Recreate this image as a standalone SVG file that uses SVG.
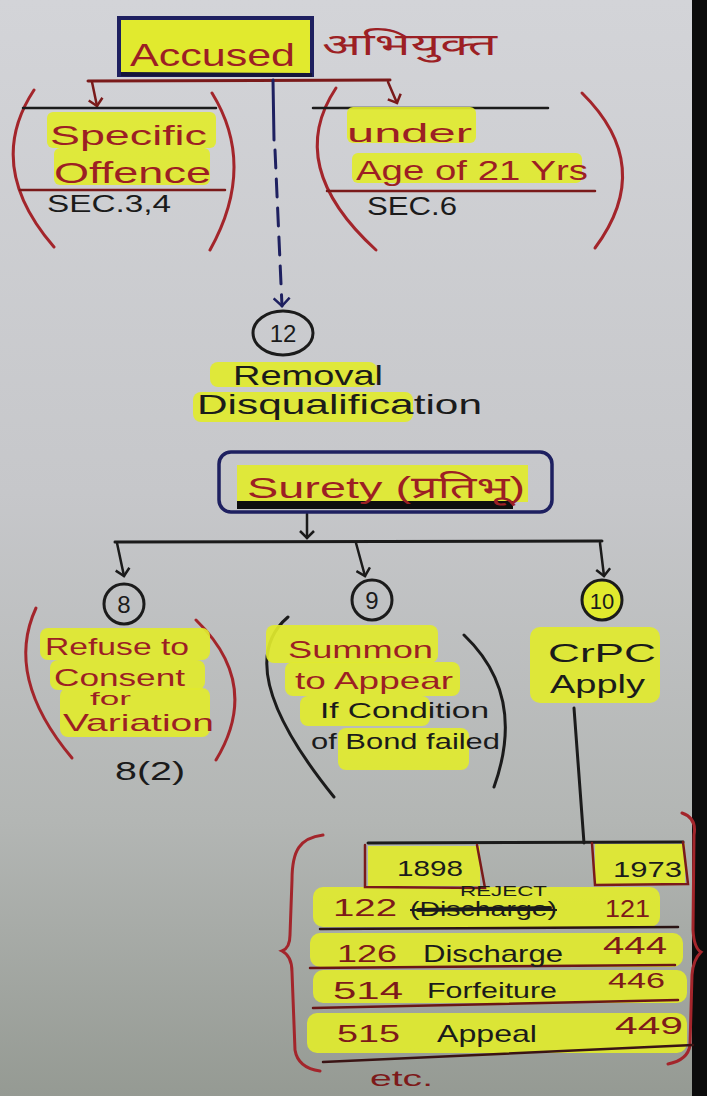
<svg xmlns="http://www.w3.org/2000/svg" width="707" height="1096" viewBox="0 0 707 1096">
<defs>
<linearGradient id="bg" x1="0" y1="0" x2="0" y2="1">
<stop offset="0" stop-color="#d3d4d8"/>
<stop offset="0.45" stop-color="#c6c7ca"/>
<stop offset="0.75" stop-color="#b3b6b4"/>
<stop offset="1" stop-color="#959a93"/>
</linearGradient>
<marker id="vk" markerWidth="16" markerHeight="16" refX="8" refY="8" orient="auto" markerUnits="userSpaceOnUse">
<path d="M1,1 L8,8 L1,15" fill="none" stroke="#1a1a1a" stroke-width="2.5"/>
</marker>
<marker id="vr" markerWidth="16" markerHeight="16" refX="8" refY="8" orient="auto" markerUnits="userSpaceOnUse">
<path d="M1,1 L8,8 L1,15" fill="none" stroke="#7a1a1a" stroke-width="2.5"/>
</marker>
<marker id="vb" markerWidth="18" markerHeight="18" refX="9" refY="9" orient="auto" markerUnits="userSpaceOnUse">
<path d="M1,1 L9,9 L1,17" fill="none" stroke="#1e2060" stroke-width="2.5"/>
</marker>
<style>
.t{font-family:"Liberation Sans","Noto Sans","Noto Sans Devanagari",sans-serif;}
.red{fill:#9c1f24;}
.dr{fill:#7d1a1a;}
.blk{fill:#1b1b1b;}
.hl{fill:#e1ea2e;opacity:0.92;}
.paren{fill:none;stroke-width:3;stroke-linecap:round;}
.pr{stroke:#a3252b;}
.pk{stroke:#1b1b1b;}
.ln{fill:none;stroke-linecap:round;}
.circ{fill:none;stroke:#1b1b1b;stroke-width:3;}
</style>
</defs>
<rect x="0" y="0" width="707" height="1096" fill="url(#bg)"/>
<rect x="692" y="0" width="15" height="1096" fill="#0c0c0c"/>

<g id="connectors">
<path class="ln" d="M88,81 L390,80" stroke="#7a1a1a" stroke-width="3"/>
<path class="ln" d="M92,82 L97,106" stroke="#7a1a1a" stroke-width="2.5" marker-end="url(#vr)"/>
<path class="ln" d="M388,82 L397,103" stroke="#7a1a1a" stroke-width="2.5" marker-end="url(#vr)"/>
<path class="ln" d="M273,80 L274,140" stroke="#1e2060" stroke-width="3"/>
<path class="ln" d="M275,150 L282,306" stroke="#1e2060" stroke-width="3" stroke-dasharray="18 11" marker-end="url(#vb)"/>
<path class="ln" d="M307,514 L307,538" stroke="#1b1b1b" stroke-width="2.5" marker-end="url(#vk)"/>
<path class="ln" d="M115,542 L602,541" stroke="#1b1b1b" stroke-width="3"/>
<path class="ln" d="M117,543 L124,576" stroke="#1b1b1b" stroke-width="2.5" marker-end="url(#vk)"/>
<path class="ln" d="M356,543 L365,576" stroke="#1b1b1b" stroke-width="2.5" marker-end="url(#vk)"/>
<path class="ln" d="M600,543 L604,576" stroke="#1b1b1b" stroke-width="2.5" marker-end="url(#vk)"/>
<path class="ln" d="M574,708 L584,843" stroke="#1b1b1b" stroke-width="3"/>
</g>

<g id="accused">
<rect x="119" y="18" width="193" height="57" fill="#e1ea2e" stroke="#1e2060" stroke-width="4"/>
<path d="M121,74 L312,75" stroke="#15163a" stroke-width="4" fill="none"/>
<text class="t red" x="130" y="66" font-size="32" textLength="165" lengthAdjust="spacingAndGlyphs">Accused</text>
<text class="t red" x="322" y="55" font-size="30" textLength="175" lengthAdjust="spacingAndGlyphs">अभियुक्त</text>
</g>

<g id="specific-offence">
<path class="paren pr" d="M34,90 Q-16,166 54,247"/>
<path class="paren pr" d="M212,93 Q257,166 210,250"/>
<path class="ln" d="M23,108 L216,108" stroke="#1b1b1b" stroke-width="2.5"/>
<rect class="hl" x="47" y="112" width="169" height="36" rx="6"/>
<rect class="hl" x="54" y="148" width="156" height="37" rx="6"/>
<path class="ln" d="M20,190 L225,190" stroke="#7a1a1a" stroke-width="2.5"/>
<text class="t red" x="50" y="145" font-size="28" textLength="157" lengthAdjust="spacingAndGlyphs">Specific</text>
<text class="t red" x="54" y="183" font-size="30" textLength="157" lengthAdjust="spacingAndGlyphs">Offence</text>
<text class="t blk" x="47" y="212" font-size="24" textLength="124" lengthAdjust="spacingAndGlyphs">SEC.3,4</text>
</g>

<g id="under-age">
<path class="paren pr" d="M336,88 Q284,166 376,250"/>
<path class="paren pr" d="M582,93 Q656,166 595,248"/>
<path class="ln" d="M313,108 L548,108" stroke="#1b1b1b" stroke-width="2.5"/>
<rect class="hl" x="347" y="107" width="129" height="36" rx="6"/>
<rect class="hl" x="352" y="153" width="230" height="30" rx="6"/>
<path class="ln" d="M327,191 L595,191" stroke="#7a1a1a" stroke-width="2.5"/>
<text class="t red" x="347" y="142" font-size="26" textLength="125" lengthAdjust="spacingAndGlyphs">under</text>
<text class="t red" x="356" y="180" font-size="28" textLength="232" lengthAdjust="spacingAndGlyphs">Age of 21 Yrs</text>
<text class="t blk" x="367" y="215" font-size="25" textLength="90" lengthAdjust="spacingAndGlyphs">SEC.6</text>
</g>

<g id="removal">
<ellipse class="circ" cx="283" cy="333" rx="30" ry="22"/>
<text class="t blk" x="283" y="342" font-size="24" text-anchor="middle">12</text>
<rect class="hl" x="210" y="362" width="167" height="25" rx="8"/>
<rect class="hl" x="193" y="392" width="220" height="30" rx="8"/>
<text class="t blk" x="233" y="385" font-size="28" textLength="150" lengthAdjust="spacingAndGlyphs">Removal</text>
<text class="t blk" x="197" y="414" font-size="28" textLength="285" lengthAdjust="spacingAndGlyphs">Disqualification</text>
</g>

<g id="surety">
<rect x="219" y="452" width="333" height="60" rx="12" fill="none" stroke="#1e2060" stroke-width="3.5"/>
<rect class="hl" x="237" y="465" width="291" height="37"/>
<path d="M237,505 L513,505" stroke="#0e0e0e" stroke-width="8" fill="none"/>
<text class="t red" x="247" y="498" font-size="30" textLength="278" lengthAdjust="spacingAndGlyphs">Surety (प्रतिभू)</text>
</g>

<g id="refuse">
<circle class="circ" cx="124" cy="604" r="20"/>
<text class="t blk" x="124" y="613" font-size="24" text-anchor="middle">8</text>
<path class="paren pr" d="M36,608 Q4,677 72,758"/>
<path class="paren pr" d="M196,620 Q262,684 216,760"/>
<rect class="hl" x="40" y="628" width="170" height="32" rx="8"/>
<rect class="hl" x="50" y="660" width="155" height="30" rx="8"/>
<rect class="hl" x="60" y="688" width="150" height="49" rx="8"/>
<text class="t red" x="45" y="655" font-size="24" textLength="144" lengthAdjust="spacingAndGlyphs">Refuse to</text>
<text class="t red" x="54" y="686" font-size="24" textLength="131" lengthAdjust="spacingAndGlyphs">Consent</text>
<text class="t red" x="90" y="705" font-size="18" textLength="41" lengthAdjust="spacingAndGlyphs">for</text>
<text class="t red" x="63" y="731" font-size="24" textLength="151" lengthAdjust="spacingAndGlyphs">Variation</text>
<text class="t blk" x="115" y="780" font-size="26" textLength="70" lengthAdjust="spacingAndGlyphs">8(2)</text>
</g>

<g id="summon">
<circle class="circ" cx="372" cy="600" r="20"/>
<text class="t blk" x="372" y="609" font-size="24" text-anchor="middle">9</text>
<path class="paren pk" d="M288,617 Q229,667 334,797"/>
<path class="paren pk" d="M464,635 Q527,695 494,787"/>
<rect class="hl" x="266" y="625" width="172" height="38" rx="8"/>
<rect class="hl" x="285" y="662" width="175" height="34" rx="8"/>
<rect class="hl" x="300" y="696" width="130" height="30" rx="8"/>
<rect class="hl" x="338" y="728" width="131" height="42" rx="8"/>
<text class="t red" x="288" y="658" font-size="24" textLength="145" lengthAdjust="spacingAndGlyphs">Summon</text>
<text class="t red" x="295" y="689" font-size="24" textLength="158" lengthAdjust="spacingAndGlyphs">to Appear</text>
<text class="t blk" x="320" y="718" font-size="22" textLength="169" lengthAdjust="spacingAndGlyphs">If Condition</text>
<text class="t blk" x="311" y="749" font-size="22" textLength="189" lengthAdjust="spacingAndGlyphs">of Bond failed</text>
</g>

<g id="crpc">
<circle cx="602" cy="600" r="20" fill="#e1ea2e" stroke="#1b1b1b" stroke-width="3"/>
<text class="t blk" x="602" y="609" font-size="22" text-anchor="middle">10</text>
<rect class="hl" x="530" y="627" width="130" height="76" rx="10"/>
<text class="t blk" x="548" y="662" font-size="26" textLength="108" lengthAdjust="spacingAndGlyphs">CrPC</text>
<text class="t blk" x="550" y="693" font-size="26" textLength="95" lengthAdjust="spacingAndGlyphs">Apply</text>
</g>

<g id="sections-table">
<path class="paren pr" d="M323,835 C300,838 292,850 292,880 L290,935 Q290,948 282,951 Q292,956 292,972 L295,1050 Q298,1068 320,1071"/>
<path class="paren pr" d="M682,813 Q697,818 694,835 L693,930 Q694,948 701,952 Q693,960 692,975 L690,1045 Q688,1060 668,1064"/>
<rect class="hl" x="368" y="846" width="112" height="40"/>
<rect class="hl" x="595" y="844" width="90" height="40"/>
<rect class="hl" x="313" y="887" width="347" height="40" rx="10"/>
<rect class="hl" x="310" y="933" width="373" height="34" rx="10"/>
<rect class="hl" x="313" y="970" width="374" height="33" rx="10"/>
<rect class="hl" x="307" y="1013" width="380" height="40" rx="10"/>
<path class="ln" d="M368,843 L683,842" stroke="#1b1b1b" stroke-width="3"/>
<path class="ln" d="M365,845 L365,887 L485,888 L477,845" stroke="#7a1a1a" stroke-width="2.5"/>
<path class="ln" d="M592,843 L595,885 L688,884 L683,842" stroke="#7a1a1a" stroke-width="2.5"/>
<path class="ln" d="M320,929 L678,927" stroke="#2a1414" stroke-width="2.5"/>
<path class="ln" d="M310,968 L675,965" stroke="#6a1616" stroke-width="2.5"/>
<path class="ln" d="M313,1008 L678,1000" stroke="#6a1616" stroke-width="2.5"/>
<path class="ln" d="M323,1062 L693,1045" stroke="#3a1414" stroke-width="2.5"/>
<text class="t blk" x="397" y="876" font-size="22" textLength="66" lengthAdjust="spacingAndGlyphs">1898</text>
<text class="t blk" x="613" y="877" font-size="22" textLength="69" lengthAdjust="spacingAndGlyphs">1973</text>
<text class="t blk" x="460" y="896" font-size="14" textLength="87" lengthAdjust="spacingAndGlyphs">REJECT</text>
<text class="t dr" x="333" y="916" font-size="24" textLength="64" lengthAdjust="spacingAndGlyphs">122</text>
<text class="t blk" x="410" y="916" font-size="20" textLength="147" lengthAdjust="spacingAndGlyphs" text-decoration="line-through">(Discharge)</text>
<path class="ln" d="M418,910 L550,908" stroke="#1b1b1b" stroke-width="4"/>
<text class="t dr" x="605" y="917" font-size="24" textLength="45" lengthAdjust="spacingAndGlyphs">121</text>
<text class="t dr" x="337" y="962" font-size="24" textLength="60" lengthAdjust="spacingAndGlyphs">126</text>
<text class="t blk" x="423" y="962" font-size="24" textLength="140" lengthAdjust="spacingAndGlyphs">Discharge</text>
<text class="t dr" x="603" y="954" font-size="24" textLength="64" lengthAdjust="spacingAndGlyphs">444</text>
<text class="t dr" x="333" y="999" font-size="24" textLength="70" lengthAdjust="spacingAndGlyphs">514</text>
<text class="t blk" x="427" y="998" font-size="22" textLength="130" lengthAdjust="spacingAndGlyphs">Forfeiture</text>
<text class="t dr" x="608" y="988" font-size="22" textLength="57" lengthAdjust="spacingAndGlyphs">446</text>
<text class="t dr" x="337" y="1042" font-size="24" textLength="63" lengthAdjust="spacingAndGlyphs">515</text>
<text class="t blk" x="437" y="1042" font-size="24" textLength="100" lengthAdjust="spacingAndGlyphs">Appeal</text>
<text class="t dr" x="615" y="1034" font-size="24" textLength="68" lengthAdjust="spacingAndGlyphs">449</text>
<text class="t dr" x="370" y="1086" font-size="22" textLength="63" lengthAdjust="spacingAndGlyphs">etc.</text>
</g>
</svg>
